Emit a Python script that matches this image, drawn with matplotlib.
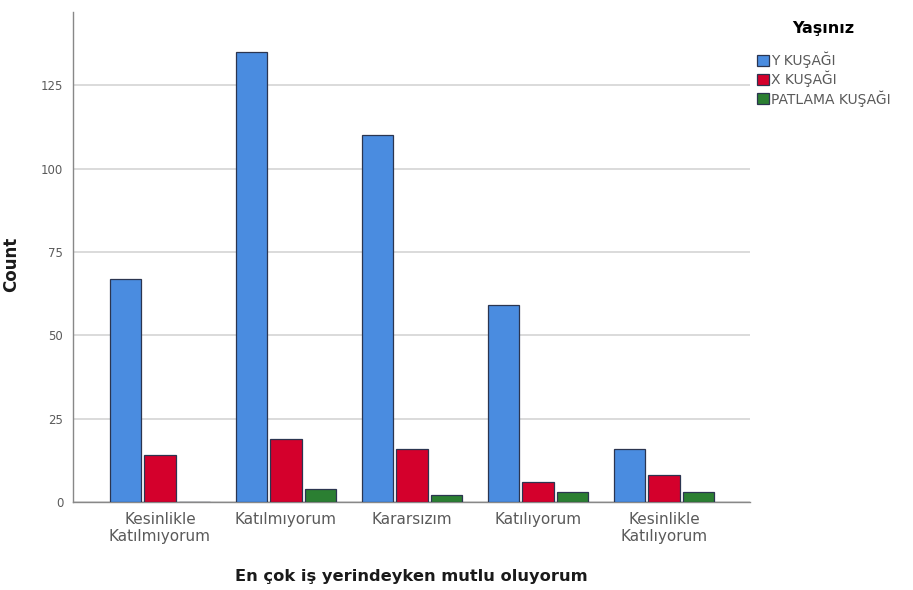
import matplotlib
matplotlib.use("Agg")
import matplotlib.pyplot as plt
import numpy as np

plt.rcParams['font.family'] = ['DejaVu Sans']

categories = ["Kesinlikle\nKatılmıyorum", "Katılmıyorum", "Kararsızım",
              "Katılıyorum", "Kesinlikle\nKatılıyorum"]
series_names = ["Y KUŞAĞI", "X KUŞAĞI", "PATLAMA KUŞAĞI"]
y_kusagi = [67, 135, 110, 59, 16]
x_kusagi = [14, 19, 16, 6, 8]
patlama_kusagi = [0, 4, 2, 3, 3]
yticks = [0, 25, 50, 75, 100, 125]

colors = ["#4A8CE0", "#D4002C", "#2B7F32"]
edge = "#2B3550"

fig = plt.figure(figsize=(9.13, 5.90), dpi=100)
ax = fig.add_axes([0.080, 0.149, 0.741, 0.831])

x = np.arange(len(categories))
width = 0.248
step = 0.274
for i, (vals, name, c) in enumerate(zip([y_kusagi, x_kusagi, patlama_kusagi],
                                        series_names, colors)):
    ax.bar(x + (i - 1) * step, vals, width, color=c, edgecolor=edge,
           linewidth=0.9, label=name, zorder=3)

ax.set_xlim(-0.69, 4.68)
ax.set_ylim(0, 147)
ax.set_yticks(yticks)
ax.yaxis.grid(True, color="#D4D4D4", linewidth=1.2, zorder=0)
ax.set_xticks(x)
ax.set_xticklabels(categories, fontsize=11, color="#5A5A5A", linespacing=1.2)
ax.tick_params(axis='y', labelsize=8.5, labelcolor="#5A5A5A", length=0, pad=7)
ax.tick_params(axis='x', length=0, pad=7)

for s in ["top", "right"]:
    ax.spines[s].set_visible(False)
for s in ["left", "bottom"]:
    ax.spines[s].set_color("#888888")
    ax.spines[s].set_linewidth(1.0)

ax.set_xlabel("En çok iş yerindeyken mutlu oluyorum", fontsize=11.7,
              fontweight="bold", color="#1A1A1A")
ax.xaxis.set_label_coords(0.5, -0.137)
ax.set_ylabel("Count", fontsize=12, fontweight="bold", color="#1A1A1A")
ax.yaxis.set_label_coords(-0.078, 0.484)

leg = fig.legend(loc="upper left", bbox_to_anchor=(0.829, 0.964),
                 title="Yaşınız", frameon=False, fontsize=10,
                 title_fontproperties={"weight": "bold", "size": 11.5},
                 handlelength=0.85, handleheight=0.85, handletextpad=0.15,
                 labelspacing=0.2, borderaxespad=0, borderpad=0)
leg._legend_box.sep = 11
for t in leg.get_texts():
    t.set_color("#5A5A5A")

fig.savefig("out.png", dpi=100)
